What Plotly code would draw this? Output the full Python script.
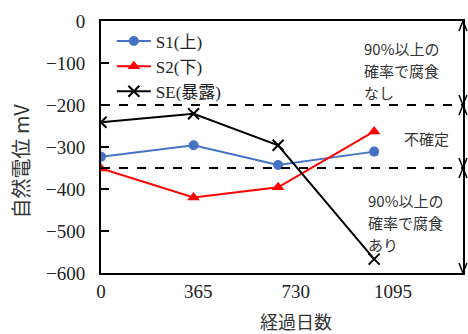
import plotly.graph_objects as go

# Data
days_s = [0, 347, 664, 1024]
s1 = [-323, -296, -343, -311]
s2 = [-351, -420, -396, -263]
se = [-241, -221, -296, -567]
series_names = ["S1(上)", "S2(下)", "SE(暴露)"]
thresholds = [-200, -350]
zone_bounds = [0, -200, -350, -600]
zone_labels = [["90%以上の", "確率で腐食", "なし"], ["不確定"], ["90%以上の", "確率で腐食", "あり"]]
x_ticks = [0, 365, 730, 1095]
y_ticks = [0, -100, -200, -300, -400, -500, -600]

serif = "Liberation Serif, Times New Roman, Noto Sans CJK JP"
cjk = "Noto Sans CJK JP"

fig = go.Figure()
fig.add_trace(go.Scatter(x=days_s, y=s1, name=series_names[0], mode="lines+markers",
                         line=dict(color="#4472C4", width=2),
                         marker=dict(symbol="circle", size=10, color="#4472C4")))
fig.add_trace(go.Scatter(x=days_s, y=s2, name=series_names[1], mode="lines+markers",
                         line=dict(color="#FF0000", width=2),
                         marker=dict(symbol="triangle-up", size=11, color="#FF0000")))
fig.add_trace(go.Scatter(x=days_s, y=se, name=series_names[2], mode="lines+markers",
                         line=dict(color="#000000", width=2),
                         marker=dict(symbol="x-thin", size=11, color="#000000",
                                     line=dict(color="#000000", width=2))))

shapes = []
for t in thresholds:
    shapes.append(dict(type="line", xref="paper", x0=0, x1=1, yref="y", y0=t, y1=t,
                       line=dict(color="black", width=2, dash="dash")))

# double-headed arrows along the right edge
for i in range(len(zone_bounds) - 1):
    top, bot = zone_bounds[i], zone_bounds[i + 1]
    shapes.append(dict(type="path", xref="paper", xsizemode="pixel", xanchor=1,
                       yref="y", ysizemode="pixel", yanchor=top,
                       path="M-4,-10 L0,0 L4,-10", line=dict(color="black", width=1.5)))
    shapes.append(dict(type="path", xref="paper", xsizemode="pixel", xanchor=1,
                       yref="y", ysizemode="pixel", yanchor=bot,
                       path="M-4,10 L0,0 L4,10", line=dict(color="black", width=1.5)))

annotations = []
ann_y = [-118, -280, -479]
ann_x = [0.725, 0.835, 0.736]
line_gap = 22
for lines, yy, xx in zip(zone_labels, ann_y, ann_x):
    n = len(lines)
    for k, txt in enumerate(lines):
        annotations.append(dict(text=txt, xref="paper", x=xx, yref="y", y=yy,
                                yshift=((n - 1) / 2 - k) * line_gap,
                                xanchor="left", yanchor="middle", align="left",
                                showarrow=False, borderpad=0,
                                font=dict(family=cjk, size=15, color="#333333")))

annotations.append(dict(text="自然電位 mV", xref="paper", x=-0.222, yref="paper", y=0.445,
                        textangle=-90, showarrow=False, xanchor="center", yanchor="middle",
                        font=dict(family=cjk, size=20, color="#333333")))
annotations.append(dict(text="経過日数", xref="paper", x=0.54, yref="paper", y=-0.19,
                        showarrow=False, xanchor="center", yanchor="middle",
                        font=dict(family=cjk, size=18, color="#333333")))

fig.update_layout(
    width=468, height=334,
    margin=dict(l=101, r=3, t=21, b=61),
    plot_bgcolor="white", paper_bgcolor="white",
    shapes=shapes, annotations=annotations,
    showlegend=True,
    legend=dict(x=0.03, y=0.99, xanchor="left", yanchor="top",
                font=dict(family=serif, size=17, color="#222222"),
                bgcolor="rgba(255,255,255,0)", tracegroupgap=0, itemwidth=34),
    xaxis=dict(range=[0, 1357], tickvals=x_ticks, ticks="", showgrid=False, zeroline=False,
               showline=True, linecolor="black", linewidth=2, mirror=True,
               tickfont=dict(family=serif, size=19, color="#222222")),
    yaxis=dict(range=[-600, 0], tickvals=y_ticks, ticks="inside", ticklen=8, tickwidth=2,
               tickcolor="black", showgrid=False, zeroline=False,
               showline=True, linecolor="black", linewidth=2, mirror=True,
               ticklabelstandoff=10,
               tickfont=dict(family=serif, size=19, color="#222222")),
)

fig.write_html("out.html", config={"displayModeBar": False},
               post_script="document.body.style.margin='0';")
